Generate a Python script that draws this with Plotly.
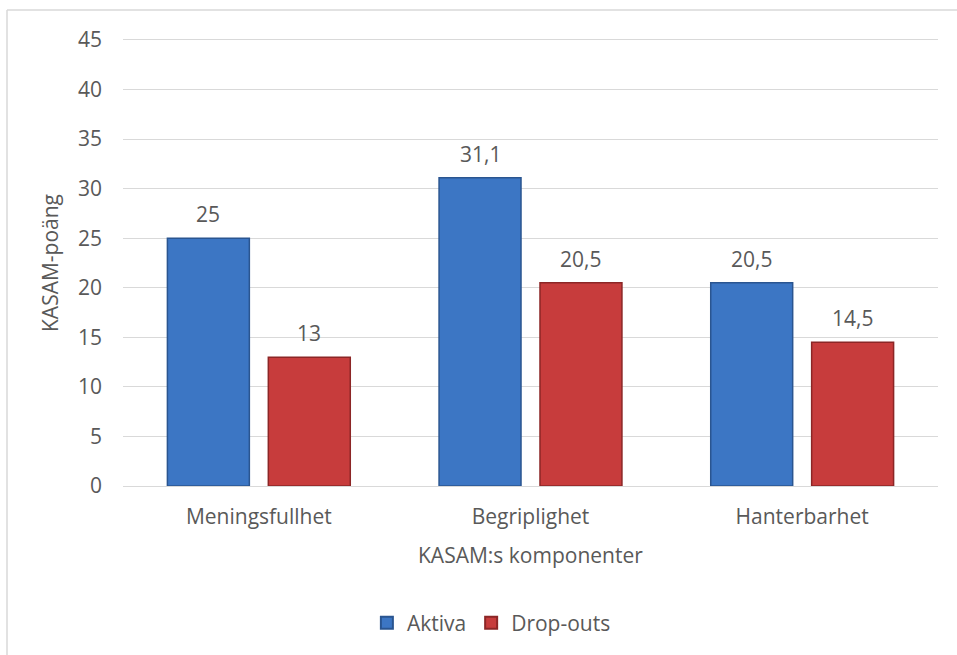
import plotly.graph_objects as go

# KASAM component scores for the two groups
categories = ["Meningsfullhet", "Begriplighet", "Hanterbarhet"]
aktiva = [25, 31.1, 20.5]
dropouts = [13, 20.5, 14.5]
series_names = ["Aktiva", "Drop-outs"]
y_ticks = [0, 5, 10, 15, 20, 25, 30, 35, 40, 45]

FONT = "Open Sans"
FS = 21
TXT = "#595959"
GRID = "#d9d9d9"
BARGAP = 0.257
BARGROUPGAP = 0.188

fills = ["#3c76c4", "#c73c3c"]
edges = ["#2a5590", "#8c2626"]

fig = go.Figure()
for name, vals, fc, ec in zip(series_names, [aktiva, dropouts], fills, edges):
    fig.add_trace(go.Bar(
        x=categories, y=vals, name=name,
        marker=dict(color=fc, line=dict(color=ec, width=1.5)),
    ))

def fmt(v):
    return f"{v:g}".replace(".", ",")

# value labels above each bar, positioned from the group layout
slot = (1 - BARGAP) / 2
offsets = [-slot / 2, slot / 2]
annotations = []
for k, vals in enumerate([aktiva, dropouts]):
    for i, v in enumerate(vals):
        annotations.append(dict(
            x=i + offsets[k], y=v, xref="x", yref="y", text=fmt(v),
            showarrow=False, yanchor="middle", yshift=24,
            font=dict(family=FONT, size=FS, color=TXT),
        ))

# plot area: 815 x 451 px; frame / title positions expressed in paper units
PW, PH = 815, 451
annotations.append(dict(
    x=-73 / PW, y=0.5 * 446 / PH, xref="paper", yref="paper", text="KASAM-poäng",
    textangle=-90, showarrow=False, xanchor="center", yanchor="middle",
    font=dict(family=FONT, size=FS, color=TXT),
))
annotations.append(dict(
    x=0.5, y=-69 / PH, xref="paper", yref="paper", text="KASAM:s komponenter",
    showarrow=False, xanchor="center", yanchor="middle",
    font=dict(family=FONT, size=FS, color=TXT),
))

# outer chart frame (top and left edges)
top = 476 / PH
left = -116 / PW
shapes = [
    dict(type="line", xref="paper", yref="paper", x0=left, x1=1.03,
         y0=top, y1=top, line=dict(color=GRID, width=1.5)),
    dict(type="line", xref="paper", yref="paper", x0=left, x1=left,
         y0=top, y1=-0.38, line=dict(color=GRID, width=1.5)),
]

fig.update_layout(
    width=957, height=655,
    margin=dict(l=123, r=19, t=35, b=169),
    paper_bgcolor="white", plot_bgcolor="white",
    barmode="group", bargap=BARGAP, bargroupgap=BARGROUPGAP,
    font=dict(family=FONT, size=FS, color=TXT),
    showlegend=True,
    legend=dict(orientation="h", x=0.452, xanchor="center", y=-137 / PH,
                yanchor="middle", font=dict(family=FONT, size=FS, color=TXT),
                itemsizing="constant", itemwidth=30),
    annotations=annotations,
    shapes=shapes,
)
fig.update_yaxes(
    range=[0, 45.5], tickvals=y_ticks, showgrid=True, gridcolor=GRID, gridwidth=1,
    zeroline=False, showline=False, ticks="", ticklabelstandoff=20,
    tickfont=dict(family=FONT, size=FS, color=TXT),
)
fig.update_xaxes(
    showline=True, linecolor=GRID, linewidth=1, ticks="",
    ticklabelstandoff=12,
    tickfont=dict(family=FONT, size=FS, color=TXT),
)

fig.write_html("out.html")
